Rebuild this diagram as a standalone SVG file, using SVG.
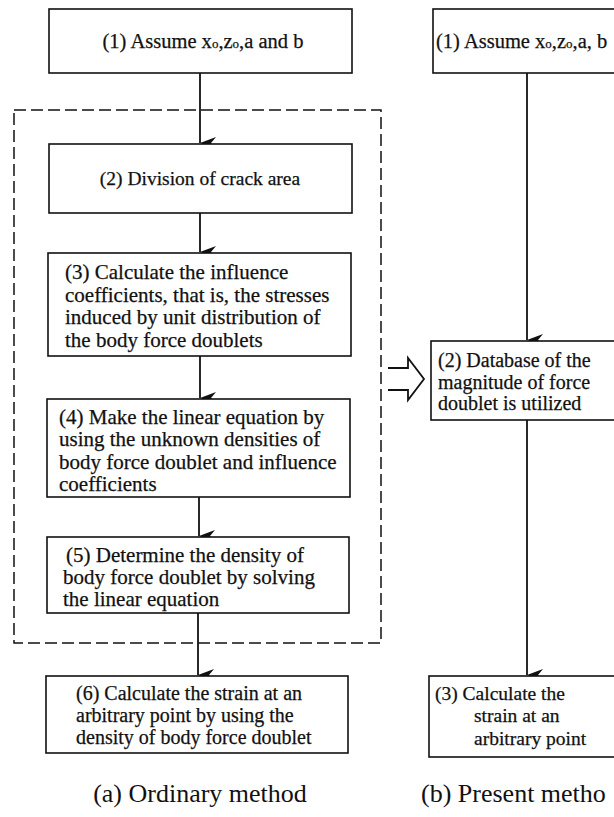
<svg xmlns="http://www.w3.org/2000/svg" width="614" height="817" viewBox="0 0 614 817">
<style>
.box{fill:#fff;stroke:#111;stroke-width:1.6}
.t{font-family:"Liberation Serif","Times New Roman",serif;font-size:21px;fill:#111;stroke:#111;stroke-width:0.25}
.c{font-family:"Liberation Serif","Times New Roman",serif;font-size:26px;fill:#111}
.ln{stroke:#111;stroke-width:1.8;fill:none}
.dash{stroke:#111;stroke-width:1.5;fill:none;stroke-dasharray:12 5}
.sub{font-size:13px}
</style>
<defs>
<marker id="ah" markerWidth="12" markerHeight="17" refX="6" refY="17" orient="auto" markerUnits="userSpaceOnUse" viewBox="0 0 12 17">
<path d="M0,1 L6,6 L12,1 L6,17 Z" fill="#111"/>
</marker>
</defs>
<rect x="0" y="0" width="614" height="817" fill="#fff"/>
<g id="group-dashed">
<rect class="dash" x="14" y="110" width="367" height="533"/>
</g>
<g id="connectors">
<line class="ln" x1="200" y1="73" x2="200" y2="143" marker-end="url(#ah)"/>
<line class="ln" x1="200" y1="213" x2="200" y2="252" marker-end="url(#ah)"/>
<line class="ln" x1="200" y1="356" x2="200" y2="398" marker-end="url(#ah)"/>
<line class="ln" x1="199" y1="497" x2="199" y2="536" marker-end="url(#ah)"/>
<line class="ln" x1="198" y1="613" x2="198" y2="675" marker-end="url(#ah)"/>
<line class="ln" x1="527" y1="73" x2="527" y2="340" marker-end="url(#ah)"/>
<line class="ln" x1="527" y1="420" x2="527" y2="675" marker-end="url(#ah)"/>
<path class="ln" stroke-width="1.5" d="M388,368 H408 V358 L424,379 L408,400 V390 H388"/>
</g>
<g id="n1">
<rect class="box" x="49" y="9" width="303" height="64"/>
<text class="t" x="203" y="48" text-anchor="middle" style="font-size:20.5px">(1) Assume x<tspan class="sub">o</tspan>,z<tspan class="sub">o</tspan>,a and b</text>
</g>
<g id="n2">
<rect class="box" x="49" y="144" width="303" height="69"/>
<text class="t" x="200" y="185" text-anchor="middle" style="font-size:19.5px">(2) Division of crack area</text>
</g>
<g id="n3">
<rect class="box" x="48" y="253" width="303" height="103"/>
<text class="t" x="65" y="279">(3) Calculate the influence</text>
<text class="t" x="65" y="301.5">coefficients, that is, the stresses</text>
<text class="t" x="65" y="324">induced by unit distribution of</text>
<text class="t" x="65" y="346.5">the body force doublets</text>
</g>
<g id="n4">
<rect class="box" x="47" y="399" width="303" height="98"/>
<text class="t" x="59" y="423.5">(4) Make the linear equation by</text>
<text class="t" x="59" y="446">using the unknown densities of</text>
<text class="t" x="59" y="468.5">body force doublet and influence</text>
<text class="t" x="59" y="491">coefficients</text>
</g>
<g id="n5">
<rect class="box" x="47" y="537" width="302" height="76"/>
<text class="t" x="66" y="562">(5) Determine the density of</text>
<text class="t" x="63" y="584">body force doublet by solving</text>
<text class="t" x="63" y="606">the linear equation</text>
</g>
<g id="n6">
<rect class="box" x="46" y="676" width="302" height="77"/>
<text class="t" x="76" y="700" style="font-size:20px">(6) Calculate the strain at an</text>
<text class="t" x="76" y="722" style="font-size:20px">arbitrary point by using the</text>
<text class="t" x="76" y="743.5" style="font-size:20px">density of body force doublet</text>
</g>
<g id="r1">
<rect class="box" x="433" y="9" width="200" height="64"/>
<text class="t" x="436" y="48" style="font-size:20.5px">(1) Assume x<tspan class="sub">o</tspan>,z<tspan class="sub">o</tspan>,a, b</text>
</g>
<g id="r2">
<rect class="box" x="431" y="341" width="200" height="79"/>
<text class="t" x="438" y="367" style="font-size:20px">(2) Database of the</text>
<text class="t" x="438" y="388.5" style="font-size:20px">magnitude of force</text>
<text class="t" x="438" y="410" style="font-size:20px">doublet is utilized</text>
</g>
<g id="r3">
<rect class="box" x="429" y="676" width="200" height="81"/>
<text class="t" x="435" y="700" style="font-size:19.5px">(3) Calculate the</text>
<text class="t" x="474" y="722" style="font-size:19.5px">strain at an</text>
<text class="t" x="474" y="745" style="font-size:19.5px">arbitrary point</text>
</g>
<g id="captions">
<text class="c" x="200" y="802" text-anchor="middle">(a) Ordinary method</text>
<text class="c" x="421" y="802">(b) Present metho</text>
</g>
</svg>
